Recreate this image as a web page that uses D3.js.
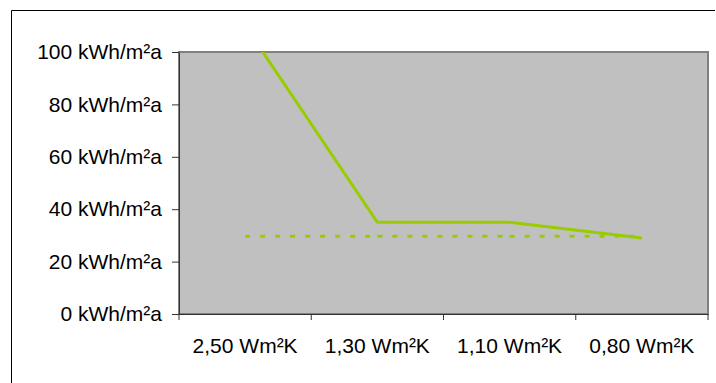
<!DOCTYPE html>
<html>
<head>
<meta charset="utf-8">
<script src="https://cdn.jsdelivr.net/npm/d3@7"></script>
<style>
  body { margin: 0; background: #fff; }
  svg { display: block; font-family: "Liberation Sans", Arial, sans-serif; }
</style>
</head>
<body>
<svg></svg>
<script>
const categories = ['2,50 Wm²K', '1,30 Wm²K', '1,10 Wm²K', '0,80 Wm²K'];
const demand = [110, 35, 35, 29];
const target = [29.7, 29.7, 29.7, 29.7];
const yTicks = [0, 20, 40, 60, 80, 100];

const width = 716;
const height = 383;
const margin = { left: 179, top: 52, right: 8, bottom: 69 };

const svg = d3.select('svg')
    .attr('width', width)
    .attr('height', height);

// outer chart frame (right and bottom run off the picture)
svg.append('path')
    .attr('d', 'M11.5,400V10.5H715')
    .attr('fill', 'none')
    .attr('stroke', '#000')
    .attr('stroke-width', 1);

const x = d3.scaleBand()
    .domain(categories)
    .range([margin.left, width - margin.right])
    .padding(0);

const y = d3.scaleLinear()
    .domain([0, 100])
    .range([height - margin.bottom, margin.top]);

svg.append('clipPath').attr('id', 'plot')
    .append('rect')
    .attr('x', x.range()[0])
    .attr('y', y(100))
    .attr('width', x.range()[1] - x.range()[0])
    .attr('height', y(0) - y(100));

svg.append('rect')
    .attr('x', x.range()[0])
    .attr('y', y(100))
    .attr('width', x.range()[1] - x.range()[0])
    .attr('height', y(0) - y(100))
    .attr('fill', '#c0c0c0')
    .attr('stroke', '#808080')
    .attr('stroke-width', 2);

// y axis
const yAxis = svg.append('g')
    .attr('transform', `translate(${x.range()[0]},0)`)
    .call(d3.axisLeft(y).tickValues(yTicks)
        .tickFormat(d => d + ' kWh/m²a')
        .tickSize(7).tickPadding(10).tickSizeOuter(0));
yAxis.select('.domain').attr('stroke', '#333');
yAxis.selectAll('.tick line').attr('stroke', '#333');
yAxis.selectAll('text')
    .attr('font-size', 21)
    .attr('font-family', '"Liberation Sans", Arial, sans-serif')
    .attr('fill', '#000');

// x axis: labels centered in bands, ticks on band boundaries
const xAxis = svg.append('g')
    .attr('transform', `translate(0,${y(0)})`)
    .call(d3.axisBottom(x).tickSize(0).tickPadding(24).tickSizeOuter(0));
xAxis.select('.domain').attr('stroke', '#333');
xAxis.selectAll('text')
    .attr('font-size', 21)
    .attr('font-family', '"Liberation Sans", Arial, sans-serif')
    .attr('fill', '#000');

const bounds = categories.map(c => x(c)).concat([x.range()[1]]);
xAxis.selectAll('.bound').data(bounds)
    .enter().append('line')
    .attr('class', 'bound')
    .attr('x1', d => d).attr('x2', d => d)
    .attr('y1', 0).attr('y2', 6)
    .attr('stroke', '#333');

const cx = c => x(c) + x.bandwidth() / 2;

const lines = svg.append('g').attr('clip-path', 'url(#plot)');

// target series: dashes restart on every segment
d3.pairs(categories.map((c, i) => [cx(c), y(target[i])]))
    .forEach(([a, b]) => {
        lines.append('line')
            .attr('x1', a[0]).attr('y1', a[1])
            .attr('x2', b[0]).attr('y2', b[1])
            .attr('stroke', '#99cc00')
            .attr('stroke-width', 3)
            .attr('stroke-dasharray', '5,10');
    });

const line = d3.line()
    .x((d, i) => cx(categories[i]))
    .y(d => y(d));

lines.append('path')
    .datum(demand)
    .attr('d', line)
    .attr('fill', 'none')
    .attr('stroke', '#99cc00')
    .attr('stroke-width', 3)
    .attr('stroke-linejoin', 'miter');
</script>
</body>
</html>
